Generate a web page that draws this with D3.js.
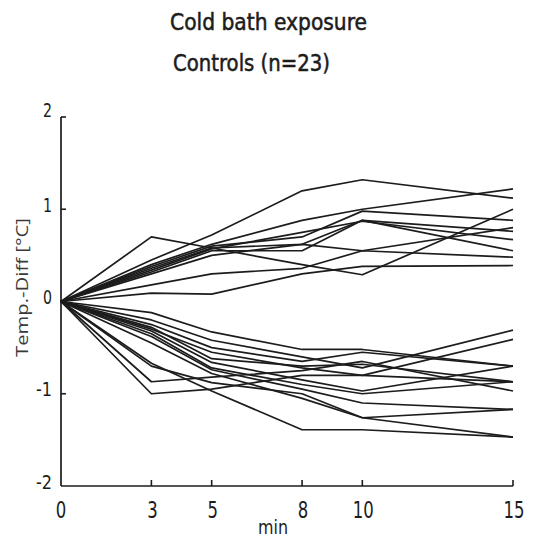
<!DOCTYPE html>
<html>
<head>
<meta charset="utf-8">
<script src="https://cdn.jsdelivr.net/npm/d3@7"></script>
<style>
  body { margin: 0; background: #fff; }
  svg { display: block; }
</style>
</head>
<body>
<script>
// sampling times (min)
var times = [0, 3, 5, 8, 10, 15];
var xTicks = [0, 3, 5, 8, 10, 15];
var yTicks = [2, 1, 0, -1, -2];

// temperature difference per subject
var risers = [
  [0, 0.45, 0.72, 1.20, 1.32, 1.12],
  [0, 0.70, 0.58, 0.40, 0.29, 1.00],
  [0, 0.40, 0.62, 0.88, 1.00, 1.22],
  [0, 0.38, 0.60, 0.70, 0.98, 0.88],
  [0, 0.36, 0.58, 0.62, 0.88, 0.55],
  [0, 0.34, 0.57, 0.75, 0.87, 0.67],
  [0, 0.32, 0.55, 0.55, 0.88, 0.76],
  [0, 0.30, 0.50, 0.62, 0.55, 0.80],
  [0, 0.18, 0.30, 0.36, 0.55, 0.48],
  [0, 0.09, 0.08, 0.30, 0.38, 0.39]
];
var fallers = [
  [0, -0.12, -0.33, -0.52, -0.52, -0.70],
  [0, -0.20, -0.42, -0.60, -0.72, -0.31],
  [0, -0.25, -0.50, -0.65, -0.55, -0.70],
  [0, -0.30, -0.55, -0.72, -0.80, -0.41],
  [0, -0.28, -0.62, -0.70, -0.68, -0.87],
  [0, -0.32, -0.66, -0.85, -0.97, -0.70],
  [0, -0.35, -0.72, -0.90, -1.00, -0.87],
  [0, -0.87, -0.82, -0.75, -0.65, -0.97],
  [0, -1.00, -0.95, -0.80, -0.80, -0.87],
  [0, -0.70, -0.88, -1.00, -1.26, -1.17],
  [0, -0.67, -0.97, -1.39, -1.39, -1.47],
  [0, -0.45, -0.78, -1.05, -1.26, -1.47],
  [0, -0.38, -0.74, -0.95, -1.10, -1.17]
];

var W = 544, H = 537;
var ink = '#1c1c1c';
var narrow = '"Liberation Sans Narrow", "DejaVu Sans Condensed", "DejaVu Sans", sans-serif';

var svg = d3.select('body').append('svg')
  .attr('xmlns', 'http://www.w3.org/2000/svg')
  .attr('width', W)
  .attr('height', H);

var x = d3.scaleLinear().domain([0, 15]).range([61, 513]);
var y = d3.scaleLinear().domain([-2, 2]).range([486, 117]);

// titles (lettering is condensed, so squeeze to the measured width)
svg.append('text')
  .attr('x', 170).attr('y', 29.5)
  .attr('textLength', 197).attr('lengthAdjust', 'spacingAndGlyphs')
  .style('font-family', narrow).style('font-size', '23px').style('fill', ink)
  .style('stroke', ink).style('stroke-width', 0.5)
  .text('Cold bath exposure');

svg.append('text')
  .attr('x', 173).attr('y', 71)
  .attr('textLength', 157).attr('lengthAdjust', 'spacingAndGlyphs')
  .style('font-family', narrow).style('font-size', '23px').style('fill', ink)
  .style('stroke', ink).style('stroke-width', 0.5)
  .text('Controls (n=23)');

// axes
var g = svg.append('g');
g.append('line')
  .attr('x1', x(0)).attr('x2', x(0)).attr('y1', y(2)).attr('y2', y(-2))
  .attr('stroke', ink).attr('stroke-width', 1.7);
g.append('line')
  .attr('x1', x(0)).attr('x2', x(15)).attr('y1', y(-2)).attr('y2', y(-2))
  .attr('stroke', ink).attr('stroke-width', 1.7);

// y ticks point inward
g.selectAll('.ytick').data(yTicks.filter(d => d > -2)).enter().append('line')
  .attr('class', 'ytick')
  .attr('x1', x(0)).attr('x2', x(0) + 5)
  .attr('y1', d => y(d)).attr('y2', d => y(d))
  .attr('stroke', ink).attr('stroke-width', 1.6);

g.selectAll('.ylab').data(yTicks).enter().append('text')
  .attr('class', 'ylab')
  .attr('x', 52)
  .attr('y', d => y(d) - (d == 2 ? 6 : 3))
  .attr('dominant-baseline', 'middle')
  .attr('text-anchor', 'end')
  .attr('textLength', d => d < 0 ? 16 : 9).attr('lengthAdjust', 'spacingAndGlyphs')
  .style('font-family', narrow).style('font-size', '19px').style('fill', ink)
  .text(d => d < 0 ? '-' + Math.abs(d) : d);

// x ticks point up
g.selectAll('.xtick').data(xTicks.filter(d => d > 0)).enter().append('line')
  .attr('class', 'xtick')
  .attr('x1', d => x(d)).attr('x2', d => x(d))
  .attr('y1', y(-2)).attr('y2', y(-2) - 6)
  .attr('stroke', ink).attr('stroke-width', 1.6);

g.selectAll('.xlab').data(xTicks).enter().append('text')
  .attr('class', 'xlab')
  .attr('x', d => x(d) - (String(d).length * 10.5) / 2 + (d == 0 ? 0 : 1))
  .attr('y', 518)
  .attr('textLength', d => String(d).length * 10.5).attr('lengthAdjust', 'spacingAndGlyphs')
  .style('font-family', narrow).style('font-size', '23px').style('fill', ink)
  .text(d => d);

svg.append('text')
  .attr('x', 258).attr('y', 534)
  .attr('textLength', 30).attr('lengthAdjust', 'spacingAndGlyphs')
  .style('font-family', narrow).style('font-size', '19px').style('fill', ink)
  .text('min');

svg.append('text')
  .attr('transform', 'translate(28,357) rotate(-90)')
  .attr('textLength', 139).attr('lengthAdjust', 'spacingAndGlyphs')
  .style('font-family', '"Open Sans", "Noto Sans", sans-serif').style('font-size', '16px').style('fill', '#3a3a3a')
  .text('Temp.-Diff [°C]');

// subject curves
var line = d3.line()
  .x((d, i) => x(times[i]))
  .y(d => y(d));

svg.append('g').selectAll('path')
  .data(risers.concat(fallers))
  .enter().append('path')
  .attr('d', line)
  .attr('fill', 'none')
  .attr('stroke', ink)
  .attr('stroke-width', 1.7)
  .attr('stroke-linejoin', 'round');
</script>
</body>
</html>
